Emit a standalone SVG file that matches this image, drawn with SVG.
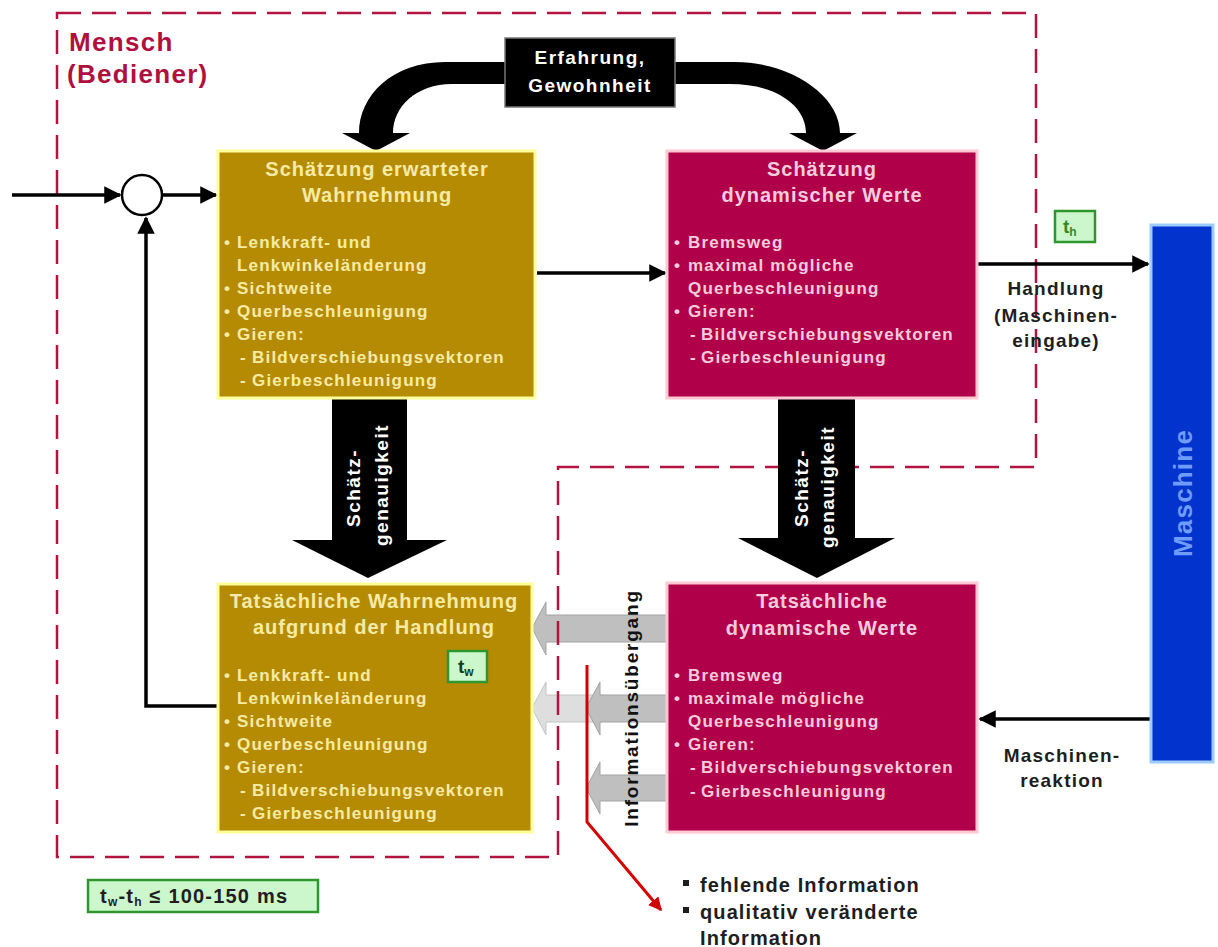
<svg xmlns="http://www.w3.org/2000/svg" width="1218" height="947" viewBox="0 0 1218 947">
  <defs>
    <marker id="ah" viewBox="0 0 10 10" refX="9" refY="5" markerWidth="5" markerHeight="5" orient="auto" markerUnits="strokeWidth">
      <path d="M0,0 L10,5 L0,10 Z" fill="#000"/>
    </marker>
    <marker id="ahRed" viewBox="0 0 10 10" refX="9" refY="5" markerWidth="4.5" markerHeight="4.5" orient="auto" markerUnits="strokeWidth">
      <path d="M0,0 L10,5 L0,10 Z" fill="#D40000"/>
    </marker>
  </defs>
  <style>
    text { font-family: "Liberation Sans", Arial, sans-serif; font-weight: bold; }
    .gold { fill: #B68B04; stroke: #FFFF99; stroke-width: 3; }
    .crim { fill: #AF0049; stroke: #FFC8D2; stroke-width: 3; }
    .tg { fill: #F6EBA4; }
    .tc { fill: #F8CCDC; }
    .ttl { font-size: 20px; letter-spacing: 1px; text-anchor: middle; }
    .itm { font-size: 17px; letter-spacing: 1.2px; }
    .lbl { font-size: 19px; letter-spacing: 1.2px; fill: #1E1E1E; text-anchor: middle; }
    .wire { stroke: #000; stroke-width: 3.5; fill: none; }
    .blk { fill: #000; }
    .gray { fill: #BFBFBF; stroke: #A3A3A3; stroke-width: 1; }
    .lgray { fill: #DEDEDE; stroke: #C4C4C4; stroke-width: 1; }
    .tag { fill: #CCF7CC; stroke: #2E962E; stroke-width: 2.5; }
    .wtxt { fill: #FFFFFF; font-size: 19px; letter-spacing: 1.5px; text-anchor: middle; }
  </style>

  <rect width="1218" height="947" fill="#FFFFFF"/>

  <!-- information transfer block arrows -->
  <g id="info-arrows">
    <path class="gray" d="M667,615 L546,615 L546,602 L532,628 L546,655 L546,642 L667,642 Z"/>
    <path class="lgray" d="M602,695 L546,695 L546,682 L532,708 L546,735 L546,722 L602,722 Z"/>
    <path class="gray" d="M667,695 L600,695 L600,682 L586,708 L600,735 L600,722 L667,722 Z"/>
    <path class="gray" d="M667,775 L600,775 L600,762 L586,788 L600,814 L600,801 L667,801 Z"/>
  </g>

  <!-- human boundary -->
  <g id="boundary">
    <path d="M57,13 H1036 V467 H558 V857 H57 Z" fill="none" stroke="#B3143F" stroke-width="2.5" stroke-dasharray="24 11"/>
    <text x="69" y="51" font-size="26" letter-spacing="1.3" fill="#B01040">Mensch</text>
    <text x="67" y="83" font-size="26" letter-spacing="1.3" fill="#B01040">(Bediener)</text>
  </g>

  <!-- experience arrows -->
  <g id="erfahrung">
    <path class="blk" d="M505,62 L445,62 C393,62 359,95 359,133 L342,133 L376,151 L410,133 L393,133 C393,107 416,84 452,84 L505,84 Z"/>
    <path class="blk" d="M675,62 L735,62 C790,62 840,95 840,133 L857,133 L823,151 L789,133 L806,133 C806,107 778,84 730,84 L675,84 Z"/>
    <rect x="505" y="38" width="170" height="69" fill="#000" stroke="#777" stroke-width="1.5"/>
    <text class="wtxt" x="590" y="64" font-size="20" letter-spacing="1.2" fill="#EEEEEE">Erfahrung,</text>
    <text class="wtxt" x="590" y="92" font-size="20" letter-spacing="1.2" fill="#EEEEEE">Gewohnheit</text>
  </g>

  <!-- estimation accuracy arrows -->
  <g id="genauigkeit-links">
    <path class="blk" d="M332,398 L407,398 L407,540 L447,540 L368,578 L292,540 L332,540 Z"/>
    <text class="wtxt" transform="translate(360,488) rotate(-90)">Schätz-</text>
    <text class="wtxt" transform="translate(388,485) rotate(-90)">genauigkeit</text>
  </g>
  <g id="genauigkeit-rechts">
    <path class="blk" d="M778,398 L855,398 L855,538 L895,538 L817,578 L738,538 L778,538 Z"/>
    <text class="wtxt" transform="translate(808,488) rotate(-90)">Schätz-</text>
    <text class="wtxt" transform="translate(834,487) rotate(-90)">genauigkeit</text>
  </g>

  <!-- connectors -->
  <g id="connectors">
    <line class="wire" x1="12" y1="195" x2="120" y2="195" marker-end="url(#ah)"/>
    <line class="wire" x1="163" y1="195" x2="216" y2="195" marker-end="url(#ah)"/>
    <line class="wire" x1="537" y1="273" x2="665" y2="273" marker-end="url(#ah)"/>
    <line class="wire" x1="978" y1="264" x2="1148" y2="264" marker-end="url(#ah)"/>
    <line class="wire" x1="1150" y1="719" x2="980" y2="719" marker-end="url(#ah)"/>
    <polyline class="wire" points="218,706 146,706 146,218" marker-end="url(#ah)"/>
    <polyline points="587,665 587,822 661,910" fill="none" stroke="#D40000" stroke-width="3" marker-end="url(#ahRed)"/>
  </g>

  <!-- comparator -->
  <g id="summierer">
    <circle cx="142" cy="195" r="20" fill="#FFFFFF" stroke="#000" stroke-width="2.5"/>
  </g>

  <!-- estimated perception -->
  <g id="schaetzung-wahrnehmung">
    <rect class="gold" x="218" y="151" width="317" height="247"/>
    <text class="ttl tg" x="377" y="176">Schätzung erwarteter</text>
    <text class="ttl tg" x="377" y="202">Wahrnehmung</text>
    <g class="itm tg">
      <text x="224" y="248">•</text><text x="237" y="248">Lenkkraft- und</text>
      <text x="237" y="271">Lenkwinkeländerung</text>
      <text x="224" y="294">•</text><text x="237" y="294">Sichtweite</text>
      <text x="224" y="317">•</text><text x="237" y="317">Querbeschleunigung</text>
      <text x="224" y="340">•</text><text x="237" y="340">Gieren:</text>
      <text x="240" y="363">-</text><text x="252" y="363">Bildverschiebungsvektoren</text>
      <text x="240" y="386">-</text><text x="252" y="386">Gierbeschleunigung</text>
    </g>
  </g>

  <!-- estimated dynamic values -->
  <g id="schaetzung-werte">
    <rect class="crim" x="667" y="151" width="310" height="247"/>
    <text class="ttl tc" x="822" y="176">Schätzung</text>
    <text class="ttl tc" x="822" y="202">dynamischer Werte</text>
    <g class="itm tc">
      <text x="674" y="248">•</text><text x="688" y="248">Bremsweg</text>
      <text x="674" y="271">•</text><text x="688" y="271">maximal mögliche</text>
      <text x="688" y="294">Querbeschleunigung</text>
      <text x="674" y="317">•</text><text x="688" y="317">Gieren:</text>
      <text x="690" y="340">-</text><text x="701" y="340">Bildverschiebungsvektoren</text>
      <text x="690" y="363">-</text><text x="701" y="363">Gierbeschleunigung</text>
    </g>
  </g>

  <!-- actual perception -->
  <g id="tatsaechliche-wahrnehmung">
    <rect class="gold" x="218" y="584" width="314" height="248"/>
    <text class="ttl tg" x="374" y="608">Tatsächliche Wahrnehmung</text>
    <text class="ttl tg" x="374" y="634">aufgrund der Handlung</text>
    <g class="itm tg">
      <text x="224" y="681">•</text><text x="237" y="681">Lenkkraft- und</text>
      <text x="237" y="704">Lenkwinkeländerung</text>
      <text x="224" y="727">•</text><text x="237" y="727">Sichtweite</text>
      <text x="224" y="750">•</text><text x="237" y="750">Querbeschleunigung</text>
      <text x="224" y="773">•</text><text x="237" y="773">Gieren:</text>
      <text x="240" y="796">-</text><text x="252" y="796">Bildverschiebungsvektoren</text>
      <text x="240" y="819">-</text><text x="252" y="819">Gierbeschleunigung</text>
    </g>
    <rect class="tag" x="448" y="651" width="39" height="31"/>
    <text x="458" y="673" font-size="19" fill="#173F17">t<tspan font-size="12" dy="3">w</tspan></text>
  </g>

  <!-- actual dynamic values -->
  <g id="tatsaechliche-werte">
    <rect class="crim" x="667" y="583" width="310" height="249"/>
    <text class="ttl tc" x="822" y="608">Tatsächliche</text>
    <text class="ttl tc" x="822" y="635">dynamische Werte</text>
    <g class="itm tc">
      <text x="674" y="681">•</text><text x="688" y="681">Bremsweg</text>
      <text x="674" y="704">•</text><text x="688" y="704">maximale mögliche</text>
      <text x="688" y="727">Querbeschleunigung</text>
      <text x="674" y="750">•</text><text x="688" y="750">Gieren:</text>
      <text x="690" y="773">-</text><text x="701" y="773">Bildverschiebungsvektoren</text>
      <text x="690" y="797">-</text><text x="701" y="797">Gierbeschleunigung</text>
    </g>
  </g>

  <!-- machine -->
  <g id="maschine">
    <rect x="1151" y="225" width="62" height="537" fill="#0233CC" stroke="#9CCBFF" stroke-width="3"/>
    <text transform="translate(1192,493) rotate(-90)" font-size="26" letter-spacing="1.2" text-anchor="middle" fill="#6F9CFF">Maschine</text>
  </g>

  <!-- connector labels -->
  <g id="labels">
    <rect class="tag" x="1055" y="211" width="40" height="31"/>
    <text x="1063" y="233" font-size="19" fill="#2E8A2E">t<tspan font-size="12" dy="3">h</tspan></text>
    <text class="lbl" x="1056" y="295">Handlung</text>
    <text class="lbl" x="1056" y="322">(Maschinen-</text>
    <text class="lbl" x="1056" y="347">eingabe)</text>
    <text class="lbl" x="1062" y="762">Maschinen-</text>
    <text class="lbl" x="1062" y="787">reaktion</text>
    <text transform="translate(638,708) rotate(-90)" font-size="19" letter-spacing="1.8" text-anchor="middle" fill="#111">Informationsübergang</text>
  </g>

  <!-- timing constraint -->
  <g id="zeitbedingung">
    <rect class="tag" x="88" y="880" width="230" height="32"/>
    <text x="100" y="903" font-size="20" letter-spacing="1.2" fill="#1E1E1E">t<tspan font-size="12" dy="3">w</tspan><tspan dy="-3">-t</tspan><tspan font-size="12" dy="3">h</tspan><tspan dy="-3"> ≤ 100-150 ms</tspan></text>
  </g>

  <!-- consequences -->
  <g id="folgen">
    <rect x="683" y="880" width="6" height="6" fill="#1E1E1E"/>
    <text x="700" y="892" font-size="20" letter-spacing="1.1" fill="#1E1E1E">fehlende Information</text>
    <rect x="683" y="907" width="6" height="6" fill="#1E1E1E"/>
    <text x="700" y="919" font-size="20" letter-spacing="1.1" fill="#1E1E1E">qualitativ veränderte</text>
    <text x="700" y="945" font-size="20" letter-spacing="1.1" fill="#1E1E1E">Information</text>
  </g>
</svg>
